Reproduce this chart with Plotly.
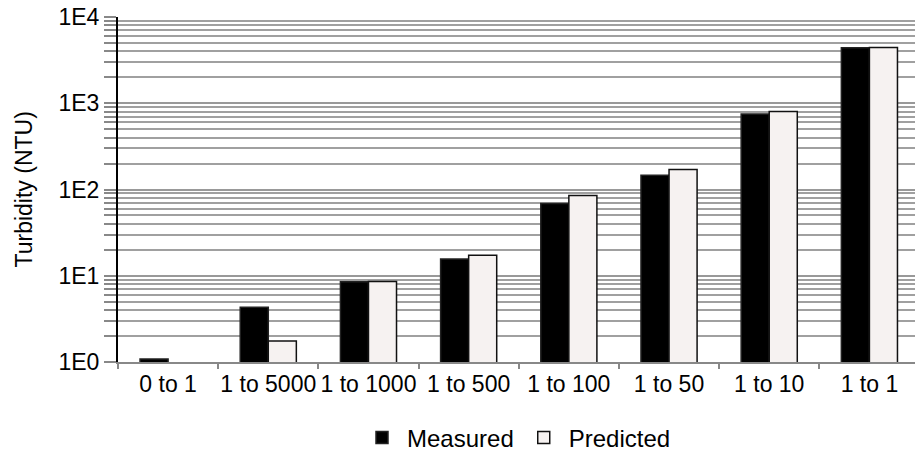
import plotly.graph_objects as go

categories = ["0 to 1", "1 to 5000", "1 to 1000", "1 to 500", "1 to 100", "1 to 50", "1 to 10", "1 to 1"]
measured = [1.08, 4.3, 8.5, 15.6, 69, 146, 750, 4400]
predicted = [None, 1.75, 8.6, 17.3, 85, 171, 800, 4420]
y_tickvals = [1, 10, 100, 1000, 10000]
y_ticktext = ["1E0", "1E1", "1E2", "1E3", "1E4"]
minor_vals = [m * 10 ** e for e in range(4) for m in range(2, 10)]
y_title = "Turbidity (NTU)"

FONT = "Liberation Sans, Arial, sans-serif"
L, W = 118, 915

fig = go.Figure()
fig.add_trace(go.Bar(
    x=categories, y=measured, name="Measured",
    marker=dict(color="#000000", line=dict(color="#222222", width=1.5)),
))
fig.add_trace(go.Bar(
    x=categories, y=predicted, name="Predicted",
    marker=dict(color="#f6f2f1", line=dict(color="#111111", width=1.5)),
))

fig.update_layout(
    width=W, height=453,
    margin=dict(l=L, r=0, t=17, b=91, autoexpand=False),
    paper_bgcolor="white", plot_bgcolor="white",
    font=dict(family=FONT, size=23, color="#000000"),
    barmode="group", bargap=0.44, bargroupgap=0,
    showlegend=True,
    legend=dict(orientation="h", x=0.5, xanchor="center", y=-0.22, yanchor="middle",
                font=dict(size=24), itemwidth=40, traceorder="normal"),
)
fig.add_annotation(
    text=y_title, xref="paper", yref="paper",
    x=(23 - L) / (W - L), y=0.5, xanchor="center", yanchor="middle",
    textangle=-90, showarrow=False, font=dict(size=23),
)
fig.update_xaxes(
    type="category", range=[-0.5, 7.455], automargin=False, tickangle=0,
    showline=True, linecolor="#888888", linewidth=2,
    ticks="outside", tickson="boundaries", ticklen=5, tickcolor="#888888", tickwidth=1.5,
    showgrid=False, tickfont=dict(size=23),
)
fig.update_yaxes(
    type="log", range=[0, 4], automargin=False,
    tickvals=y_tickvals, ticktext=y_ticktext,
    showline=True, linecolor="#000000", linewidth=2,
    ticks="outside", ticklen=12, tickcolor="#888888", tickwidth=1.5,
    showgrid=True, gridcolor="#999999", gridwidth=2,
    minor=dict(tickvals=minor_vals, ticks="outside", ticklen=12, tickcolor="#888888",
               tickwidth=1.5, showgrid=True, gridcolor="#a0a0a0", gridwidth=1.5),
    tickfont=dict(size=23), zeroline=False,
)

fig.write_html("out.html", config={"displayModeBar": False},
               post_script="document.body.style.margin='0';")
